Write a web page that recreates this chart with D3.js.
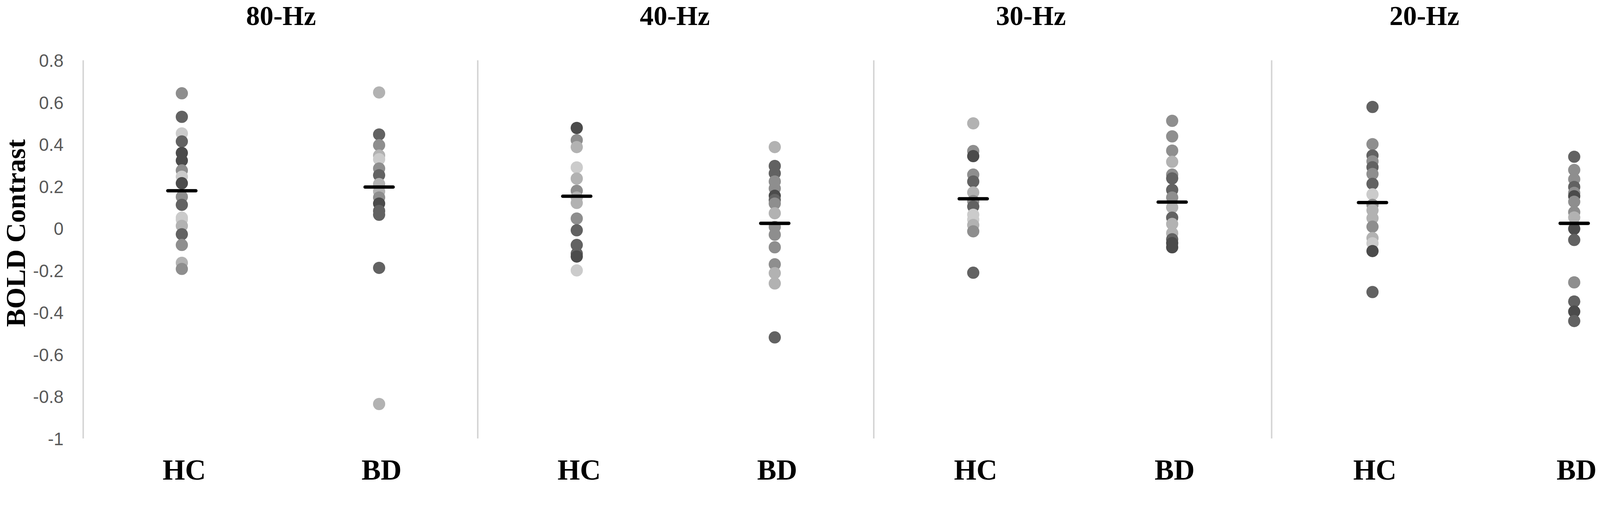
<!DOCTYPE html>
<html>
<head>
<meta charset="utf-8">
<script src="https://cdn.jsdelivr.net/npm/d3@7/dist/d3.min.js"></script>
<style>
  html, body { margin: 0; padding: 0; background: #fff; overflow: hidden; }
  svg { display: block; }
</style>
</head>
<body>
<div id="chart"></div>
<script>
// BOLD contrast per subject
var panels = ["80-Hz", "40-Hz", "30-Hz", "20-Hz"];
var groups = ["HC", "BD"];

var hc80 = [0.643, 0.531, 0.452, 0.414, 0.359, 0.323, 0.276, 0.246, 0.215, 0.150, 0.112, 0.051, 0.042, 0.012, -0.028, -0.079, -0.164, -0.193];
var bd80 = [0.647, 0.447, 0.396, 0.347, 0.329, 0.285, 0.253, 0.211, 0.176, 0.147, 0.118, 0.083, 0.065, -0.188, -0.836];
var hc40 = [0.478, 0.420, 0.387, 0.290, 0.237, 0.179, 0.147, 0.121, 0.047, -0.009, -0.079, -0.120, -0.134, -0.200];
var bd40 = [0.387, 0.297, 0.262, 0.223, 0.190, 0.155, 0.135, 0.118, 0.072, 0.007, -0.030, -0.090, -0.171, -0.213, -0.262, -0.519];
var hc30 = [0.500, 0.368, 0.344, 0.256, 0.223, 0.171, 0.130, 0.104, 0.065, 0.042, 0.016, -0.014, -0.211];
var bd30 = [0.512, 0.438, 0.370, 0.317, 0.256, 0.238, 0.183, 0.147, 0.100, 0.051, 0.021, -0.023, -0.052, -0.070, -0.090];
var hc20 = [0.578, 0.401, 0.347, 0.319, 0.291, 0.259, 0.212, 0.162, 0.112, 0.086, 0.049, 0.008, -0.046, -0.071, -0.108, -0.303];
var bd20 = [0.341, 0.278, 0.234, 0.197, 0.169, 0.153, 0.127, 0.077, 0.052, -0.002, -0.055, -0.257, -0.348, -0.396, -0.441];

// group means (black bars)
var meansHC = [0.179, 0.153, 0.141, 0.123];
var meansBD = [0.197, 0.024, 0.125, 0.024];

var yTicks = [0.8, 0.6, 0.4, 0.2, 0, -0.2, -0.4, -0.6, -0.8, -1];

var series = [[hc80, bd80], [hc40, bd40], [hc30, bd30], [hc20, bd20]];

// --- styling (kept apart from the data) ---
var grays = { k: "#4b4b4b", d: "#626262", m: "#8e8e8e", l: "#b2b2b2", v: "#cbcbcb" };
var shades = [
  ["mdvdkkmvkmdvvldmlm", "ldmlvmdllmkdddl"],
  ["kmlvlmllmdddkv", "lddmmkdmlmmmmlld"],
  ["lmkmdlmdvvlmd", "mmmlmddmldlldkk"],
  ["dmdmdmdvmllmlvkd", "dmmdmkmmlkdmdkd"]
];

var W = 4327, H = 1315;
var panelEdges = [225, 1292, 2363, 3439, 4530];
var titleX = [760, 1825, 2788, 3852];
var r = 16.5;

var serif = "'Palatino Linotype', 'Book Antiqua', Palatino, 'Liberation Serif', serif";

var svg = d3.select("#chart").append("svg")
    .attr("width", W)
    .attr("height", H)
    .attr("viewBox", "0 0 " + W + " " + H)
    .attr("preserveAspectRatio", "xMidYMin meet")
    .style("width", "100vw")
    .style("height", "100vh")
    .style("background", "#fff");

var y = d3.scaleLinear()
    .domain([-1, 0.8])
    .range([1185, 163]);

// value axis
var yAxis = d3.axisLeft(y)
    .tickValues(yTicks)
    .tickSize(0)
    .tickPadding(0)
    .tickFormat(function(d) { return String(+d.toFixed(1)); });

var ya = svg.append("g")
    .attr("class", "y axis")
    .attr("transform", "translate(172,0)")
    .call(yAxis);
ya.select(".domain").remove();
ya.selectAll("text")
    .attr("x", 0)
    .attr("dy", "0.36em")
    .style("font-family", "'Liberation Sans', Arial, sans-serif")
    .style("font-size", "48px")
    .style("fill", "#595959");

svg.append("text")
    .attr("transform", "translate(68,630) rotate(-90)")
    .attr("text-anchor", "middle")
    .style("font-family", serif)
    .style("font-weight", "bold")
    .style("font-size", "74px")
    .style("fill", "#000")
    .text("BOLD Contrast");

// panel separators (first one doubles as the value axis line)
svg.selectAll(".sep")
    .data(panelEdges.slice(0, 4))
  .enter().append("line")
    .attr("class", "sep")
    .attr("x1", function(d) { return d; })
    .attr("x2", function(d) { return d; })
    .attr("y1", y(0.8))
    .attr("y2", y(-1))
    .style("stroke", "#d4d4d4")
    .style("stroke-width", 4);

panels.forEach(function(name, p) {
  var x = d3.scalePoint()
      .domain(groups)
      .range([panelEdges[p], panelEdges[p + 1]])
      .padding(0.5);

  var g = svg.append("g").attr("class", "panel");

  g.append("text")
      .attr("x", titleX[p])
      .attr("y", 68)
      .attr("text-anchor", "middle")
      .style("font-family", serif)
      .style("font-weight", "bold")
      .style("font-size", "74px")
      .text(name);

  var xAxis = d3.axisBottom(x).tickSize(0).tickPadding(0);
  var xa = g.append("g")
      .attr("class", "x axis")
      .attr("transform", "translate(6,1296)")
      .call(xAxis);
  xa.select(".domain").remove();
  xa.selectAll("text")
      .attr("y", 0)
      .attr("dy", 0)
      .style("font-family", serif)
      .style("font-weight", "bold")
      .style("font-size", "78px")
      .style("fill", "#000");

  groups.forEach(function(grp, gi) {
    var vals = series[p][gi];
    var codes = shades[p][gi];
    g.selectAll(".dot-" + grp)
        .data(vals)
      .enter().append("circle")
        .attr("class", "dot-" + grp)
        .attr("cx", x(grp))
        .attr("cy", function(d) { return y(d); })
        .attr("r", r)
        .style("fill", function(d, i) { return grays[codes[i]] || grays.m; });

    var m = gi === 0 ? meansHC[p] : meansBD[p];
    g.append("line")
        .attr("x1", x(grp) - 38)
        .attr("x2", x(grp) + 38)
        .attr("y1", y(m))
        .attr("y2", y(m))
        .style("stroke", "#000")
        .style("stroke-width", 9)
        .style("stroke-linecap", "round");
  });
});
</script>
</body>
</html>
